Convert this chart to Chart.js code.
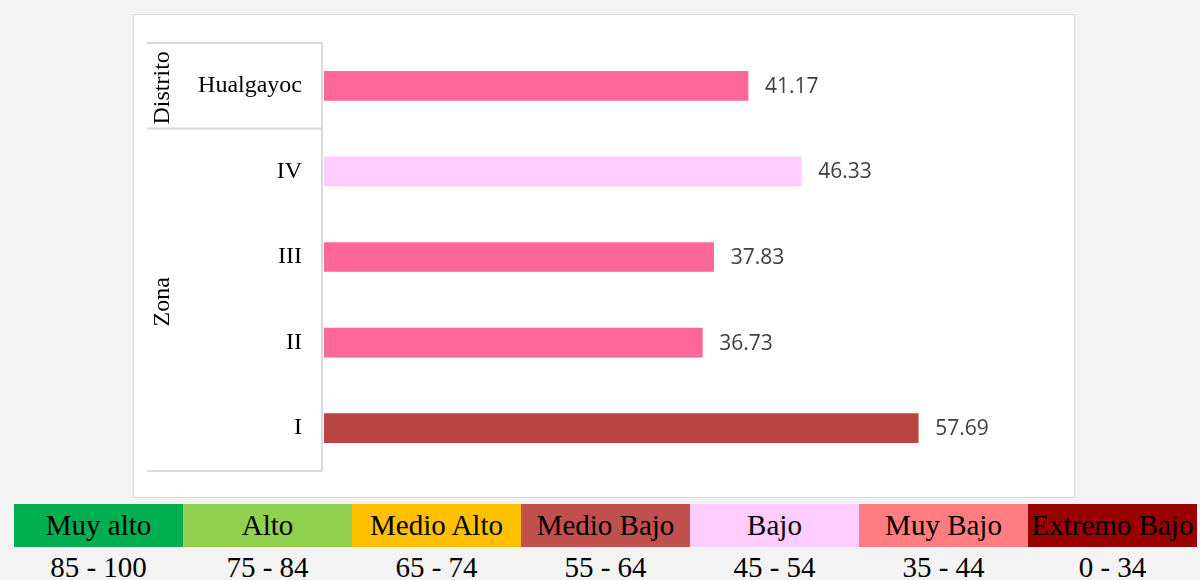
<!DOCTYPE html>
<html>
<head>
<meta charset="utf-8">
<script src="https://cdn.jsdelivr.net/npm/chart.js@4"></script>
<style>
  body { margin: 0; width: 1200px; height: 580px; background: #f3f3f3; position: relative; overflow: hidden; }
  #box { position: absolute; left: 133px; top: 14px; width: 940px; height: 482px; background: #fff; border: 1px solid #d9d9d9; }
  #box canvas { display: block; }
  .cells { position: absolute; left: 14px; top: 504px; display: flex; }
  .cells div { width: 169px; height: 43px; line-height: 43px; text-align: center; font-family: "Liberation Serif", serif; font-size: 29px; color: #000; white-space: nowrap; overflow: hidden; }
  .ranges { position: absolute; left: 14px; top: 549px; display: flex; }
  .ranges div { width: 169px; height: 36px; line-height: 36px; text-align: center; font-family: "Liberation Serif", serif; font-size: 29px; color: #000; }
</style>
</head>
<body>
<div id="box"><canvas id="barChart" width="940" height="482"></canvas></div>
<div class="cells" id="cells"></div>
<div class="ranges" id="ranges"></div>
<script>
// chart data
const categories = ['Hualgayoc', 'IV', 'III', 'II', 'I'];
const values = [41.17, 46.33, 37.83, 36.73, 57.69];
const barColors = ['#FF6699', '#FFCCFF', '#FF6699', '#FF6699', '#B94543'];

// group labels on the left axis: name + how many categories it covers
const groupNames = ['Distrito', 'Zona'];
const groupSizes = [1, 4];

// colour scale under the chart
const levelNames = ['Muy alto', 'Alto', 'Medio Alto', 'Medio Bajo', 'Bajo', 'Muy Bajo', 'Extremo Bajo'];
const levelRanges = ['85 - 100', '75 - 84', '65 - 74', '55 - 64', '45 - 54', '35 - 44', '0 - 34'];
const levelColors = ['#00B050', '#92D050', '#FFC000', '#C0504D', '#FFCCFF', '#FF7C80', '#990000'];

const cells = document.getElementById('cells');
const ranges = document.getElementById('ranges');
levelNames.forEach((name, i) => {
    const c = document.createElement('div');
    c.textContent = name;
    c.style.background = levelColors[i];
    cells.appendChild(c);
    const r = document.createElement('div');
    r.textContent = levelRanges[i];
    ranges.appendChild(r);
});

// value labels at the end of each bar
const valueLabels = {
    id: 'valueLabels',
    afterDatasetsDraw(chart) {
        const ctx = chart.ctx;
        const meta = chart.getDatasetMeta(0);
        ctx.save();
        ctx.font = '21px "Open Sans"';
        ctx.fillStyle = '#404040';
        ctx.textBaseline = 'middle';
        ctx.textAlign = 'left';
        meta.data.forEach((bar, i) => {
            ctx.fillText(values[i].toFixed(2), bar.x + 17, bar.y + 1);
        });
        ctx.restore();
    }
};

// multi-level category box (Distrito / Zona)
const groupBox = {
    id: 'groupBox',
    afterDraw(chart) {
        const ctx = chart.ctx;
        const area = chart.chartArea;
        const step = (area.bottom - area.top) / categories.length;
        const x0 = 13, x1 = 188;
        ctx.save();
        ctx.strokeStyle = '#d9d9d9';
        ctx.lineWidth = 2;
        ctx.beginPath();
        ctx.moveTo(x1, area.top);
        ctx.lineTo(x1, area.bottom);
        let start = 0;
        const edges = [area.top];
        groupSizes.forEach(n => {
            start += n;
            edges.push(area.top + start * step);
        });
        edges.forEach(e => {
            ctx.moveTo(x0, e);
            ctx.lineTo(x1, e);
        });
        ctx.stroke();

        ctx.fillStyle = '#000';
        ctx.font = '24px "Liberation Serif"';
        ctx.textAlign = 'center';
        ctx.textBaseline = 'middle';
        groupNames.forEach((name, i) => {
            const mid = (edges[i] + edges[i + 1]) / 2;
            ctx.save();
            ctx.translate(29, mid + 2);
            ctx.rotate(-Math.PI / 2);
            ctx.fillText(name, 0, 0);
            ctx.restore();
        });
        ctx.restore();
    }
};

const barChart = document.getElementById('barChart');
new Chart(barChart, {
    type: 'bar',
    data: {
        labels: categories,
        datasets: [{
            data: values,
            backgroundColor: barColors,
            borderWidth: 0,
            barThickness: 29
        }]
    },
    options: {
        indexAxis: 'y',
        responsive: false,
        animation: false,
        layout: { padding: { top: 28, bottom: 26, right: 29, left: 0 } },
        scales: {
            x: { display: false, min: 0, max: 70 },
            y: {
                grid: { display: false },
                border: { display: false },
                afterFit: s => {
                    s.width = 190;
                    s.paddingTop = 0;      // stop the label overflow from shrinking the plot
                    s.paddingBottom = 0;
                },
                ticks: {
                    padding: 14,
                    color: '#000',
                    font: { family: 'Liberation Serif', size: 24 }
                }
            }
        },
        plugins: {
            legend: { display: false },
            tooltip: { enabled: false }
        }
    },
    plugins: [valueLabels, groupBox]
});
</script>
</body>
</html>
